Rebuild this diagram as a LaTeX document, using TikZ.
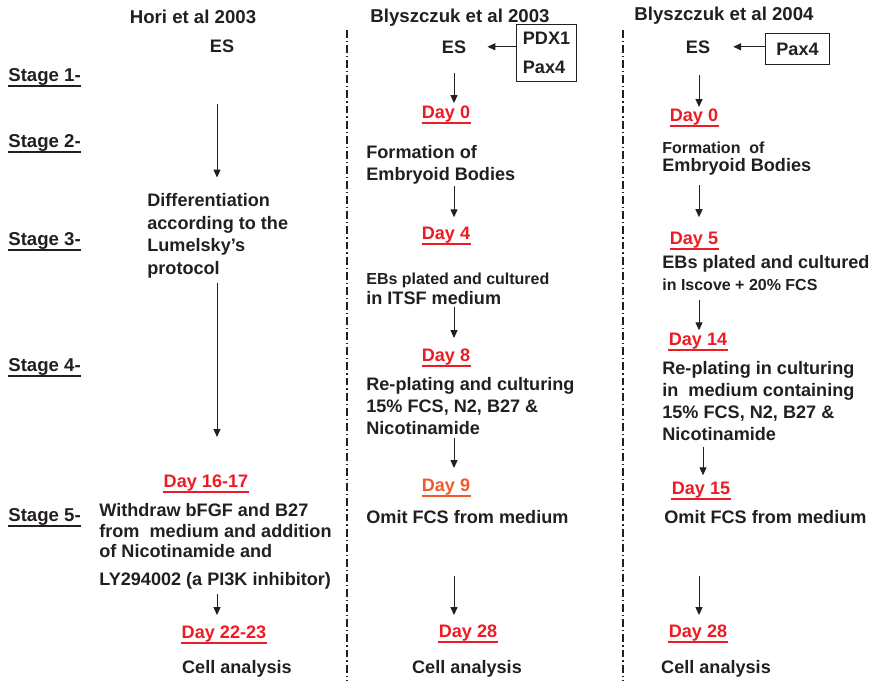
\documentclass[tikz,border=0pt]{standalone}
\usepackage{fontspec}
\setmainfont{Liberation Sans}
\usetikzlibrary{arrows.meta}
\definecolor{ink}{HTML}{231F20}
\definecolor{dred}{HTML}{ED1C24}
\definecolor{dorange}{HTML}{F15A29}
\newcommand{\bodyfont}{\fontsize{10.3}{12.6}\selectfont\bfseries}
\newcommand{\smlfont}{\fontsize{9.1}{11}\selectfont\bfseries}
\newcommand{\headfont}{\fontsize{10.6}{12.6}\selectfont\bfseries}
\tikzset{
    %standard arrow tip
    >={Triangle[width=4pt,length=4.5pt]},
    every node/.style={text=ink, font=\bodyfont, inner sep=0pt},
    %box round the genes
    genbox/.style={
           rectangle,
           draw=ink, line width=0.6pt,
           align=left},
    %text blocks, placed by their top left corner
    para/.style={
           anchor=north west,
           align=left},
    %underlined days
    dayl/.style={
           text=#1,
           anchor=base,
           inner ysep=0.4pt,
           append after command={(\tikzlastnode.south west) edge[draw=#1, line width=1.1pt] (\tikzlastnode.south east)}},
    dayl/.default=dred,
    stage/.style={
           anchor=base west,
           inner ysep=0.3pt,
           font=\headfont,
           append after command={(\tikzlastnode.south west) edge[draw=ink, line width=0.9pt] (\tikzlastnode.south east)}},
    %arrows
    arr/.style={
           ->,
           draw=ink,
           line width=0.55pt},
    sep/.style={
           draw=ink,
           line width=0.7pt,
           dash pattern=on 4.5pt off 1.7pt on 0.7pt off 1.7pt}
}
\begin{document}
\begin{tikzpicture}[x=0.02cm, y=-0.02cm]
\useasboundingbox (0,0) rectangle (871,680);

%headings
\node[font=\headfont, anchor=base] (hori) at (193,23) {Hori et al 2003};
\node[font=\headfont, anchor=base] (bly3) at (460,22) {Blyszczuk et al 2003};
\node[font=\headfont, anchor=base] (bly4) at (724,20) {Blyszczuk et al 2004};

%stages
\node[stage] (st1) at (8,81) {Stage 1-};
\node[stage] (st2) at (8,147) {Stage 2-};
\node[stage] (st3) at (8,245) {Stage 3-};
\node[stage] (st4) at (8,371) {Stage 4-};
\node[stage] (st5) at (8,521) {Stage 5-};

%separators
\draw[sep] (347,30) -- (347,680);
\draw[sep] (623,30) -- (623,680);

%Hori et al 2003
\coordinate (c1) at (217,0);
\node[anchor=base] (es1) at (222,52) {ES};
\node[para, font=\fontsize{10.3}{12.8}\selectfont\bfseries] (diff) at (147,193.5)
  {Differentiation\\according to the\\Lumelsky’s\\protocol};
\node[dayl] (d1617) at (206,487) {Day 16-17};
\node[para, font=\fontsize{10.3}{11.4}\selectfont\bfseries] (wdraw) at (99,503.5)
  {Withdraw bFGF and B27\\from\ \ medium and addition\\of Nicotinamide and\\[5pt]LY294002 (a PI3K inhibitor)};
\node[dayl] (d2223) at (224,638) {Day 22-23};
\node[anchor=base] (cell1) at (237,673.5) {Cell analysis};

\draw[arr, shorten <=29.3pt, shorten >=9.1pt] (c1 |- es1.south) -- (c1 |- diff.north);
\draw[arr, shorten <=2.8pt, shorten >=20.7pt] (c1 |- diff.south) -- (c1 |- d1617.north);
\draw[arr, shorten <=2.3pt, shorten >=5.3pt] (c1 |- wdraw.south) -- (c1 |- d2223.north);

%Blyszczuk et al 2003
\coordinate (c2) at (454,0);
\node[anchor=base] (es2) at (454,53) {ES};
\node[genbox, inner xsep=3.4pt, inner ysep=4.5pt] (gen2) at (546.5,53) {PDX1\\[4pt]Pax4};
\node[dayl] (d0b) at (446,118.5) {Day 0};
\node[para, font=\fontsize{10.3}{12}\selectfont\bfseries] (form2) at (366,145.5)
  {Formation of\\Embryoid Bodies};
\node[dayl] (d4) at (446,239.5) {Day 4};
\node[para, font=\fontsize{10.3}{11.4}\selectfont\bfseries] (ebs2) at (366,272.2)
  {{\smlfont EBs plated and cultured}\\in ITSF medium};
\node[dayl] (d8) at (446,361.5) {Day 8};
\node[para, font=\fontsize{10.3}{12.5}\selectfont\bfseries] (rep2) at (366,377.5)
  {Re-plating and culturing\\15\% FCS, N2, B27 \&\\Nicotinamide};
\node[dayl=dorange] (d9) at (446,491.5) {Day 9};
\node[anchor=base west] (omit2) at (366,523.5) {Omit FCS from medium};
\node[dayl] (d28b) at (468,637.5) {Day 28};
\node[anchor=base] (cell2) at (467,673.5) {Cell analysis};

\draw[arr, shorten >=12pt] (gen2.west |- es2) -- (es2);
\draw[arr, shorten <=10.8pt, shorten >=1pt] (c2 |- es2.south) -- (c2 |- d0b.north);
\draw[arr, shorten <=1pt, shorten >=5pt] (c2 |- form2.south) -- (c2 |- d4.north);
\draw[arr, shorten <=1.4pt, shorten >=5.6pt] (c2 |- ebs2.south) -- (c2 |- d8.north);
\draw[arr, shorten <=1.4pt, shorten >=5.6pt] (c2 |- rep2.south) -- (c2 |- d9.north);
\draw[arr, shorten <=29.3pt, shorten >=5pt] (c2 |- omit2.south) -- (c2 |- d28b.north);

%Blyszczuk et al 2004
\coordinate (c3) at (699,0);
\coordinate (c3b) at (703,0);
\node[anchor=base] (es3) at (698,53) {ES};
\node[genbox, inner xsep=6.3pt, inner ysep=5.4pt] (gen3) at (797.5,49) {Pax4};
\node[dayl] (d0c) at (694,121.5) {Day 0};
\node[para, font=\fontsize{10.3}{10.4}\selectfont\bfseries] (form3) at (662,141.2)
  {{\smlfont Formation\ \ of}\\Embryoid Bodies};
\node[dayl] (d5) at (694,244.5) {Day 5};
\node[para, font=\fontsize{10.3}{12}\selectfont\bfseries] (ebs3) at (662,255.5)
  {EBs plated and cultured\\{\smlfont in Iscove + 20\% FCS}};
\node[dayl] (d14) at (698,345.5) {Day 14};
\node[para, font=\fontsize{10.3}{12.5}\selectfont\bfseries] (rep3) at (662,361.5)
  {Re-plating in culturing\\in\ \ medium containing\\15\% FCS, N2, B27 \&\\Nicotinamide};
\node[dayl] (d15) at (701,494.5) {Day 15};
\node[anchor=base west] (omit3) at (664,523.5) {Omit FCS from medium};
\node[dayl] (d28c) at (698,637.5) {Day 28};
\node[anchor=base] (cell3) at (716,673.5) {Cell analysis};

\draw[arr, shorten >=13pt] (gen3.west |- es3) -- (es3);
\draw[arr, shorten <=12.5pt, shorten >=0.5pt] (c3 |- es3.south) -- (c3 |- d0c.north);
\draw[arr, shorten <=5.5pt, shorten >=7.9pt] (c3 |- form3.south) -- (c3 |- d5.north);
\draw[arr, shorten <=5.2pt, shorten >=1pt] (c3 |- ebs3.south) -- (c3 |- d14.north);
\draw[arr, shorten <=3.1pt, shorten >=3.3pt] (c3b |- rep3.south) -- (c3b |- d15.north);
\draw[arr, shorten <=29.3pt, shorten >=5pt] (c3 |- omit3.south) -- (c3 |- d28c.north);
\end{tikzpicture}
\end{document}
